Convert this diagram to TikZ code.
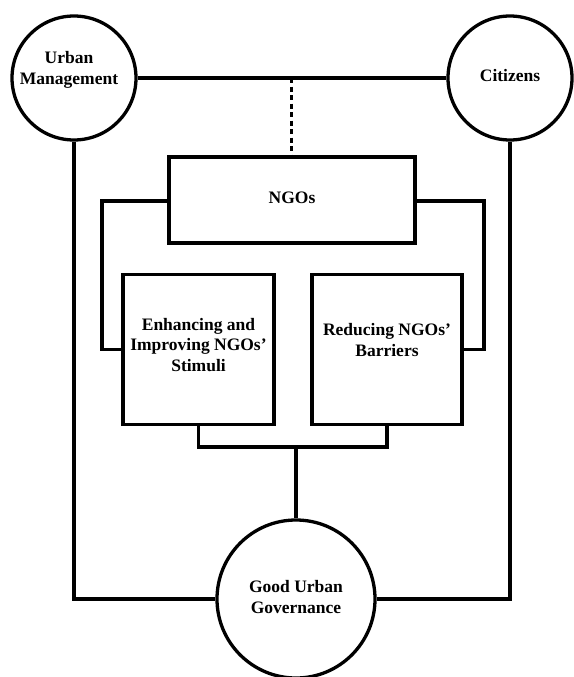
\documentclass[tikz,border=0pt]{standalone}
\usepackage{fontspec}
\setmainfont{Liberation Serif}
\begin{document}
\begin{tikzpicture}[x=1pt,y=-1pt,
  conn/.style={line width=3.3pt},
  rbox/.style={draw,line width=3.3pt,rectangle,inner sep=0pt},
  circ/.style={draw,line width=3.3pt,circle,inner sep=0pt},
  txt/.style={align=center,inner sep=0pt,font=\fontsize{17.5}{20.5}\selectfont\bfseries}
]
\useasboundingbox (0,0) rectangle (573,677);
% circles
\node[circ,minimum size=124pt] (um) at (74,78) {};
\node[circ,minimum size=124pt] (cit) at (510,78) {};
\node[circ,minimum size=158pt] (gug) at (296,599) {};
% boxes
\node[rbox,minimum width=246pt,minimum height=86pt] (ngo) at (292,200) {};
\node[rbox,minimum width=151pt,minimum height=150pt] (enh) at (198.5,349.5) {};
\node[rbox,minimum width=150pt,minimum height=150pt] (red) at (387,349.5) {};
% texts
\node[txt] (umt) at (69,70) {Urban\\Management};
\node[txt] (citt) at (510,76) {Citizens};
\node[txt] (ngot) at (292,198) {NGOs};
\node[txt] (enht) at (198.5,345) {Enhancing and\\Improving NGOs’\\Stimuli};
\node[txt] (redt) at (387,340) {Reducing NGOs’\\Barriers};
\node[txt] (gugt) at (296,597) {Good Urban\\Governance};
% connectors
\draw[conn] (um) -- (cit);
\coordinate (dtop) at (291,78);
\draw[line width=3pt,dash pattern=on 5pt off 3.5pt] (dtop) -- (dtop |- ngo.north);
\coordinate (lb) at (102,201);
\coordinate (rb) at (484,201);
\draw[conn] (ngo.west |- lb) -- (lb) -- (lb |- enh.west) -- (enh.west);
\draw[conn] (ngo.east |- rb) -- (rb) -- (rb |- red.east) -- (red.east);
\coordinate (bj) at (296,447);
\draw[conn] (enh.south) -- (enh.south |- bj) -- (red.south |- bj) -- (red.south);
\draw[conn] (bj) -- (gug.north);
\draw[conn] (um.south) -- (um.south |- gug.west) -- (gug.west);
\draw[conn] (cit.south) -- (cit.south |- gug.east) -- (gug.east);
\end{tikzpicture}
\end{document}
